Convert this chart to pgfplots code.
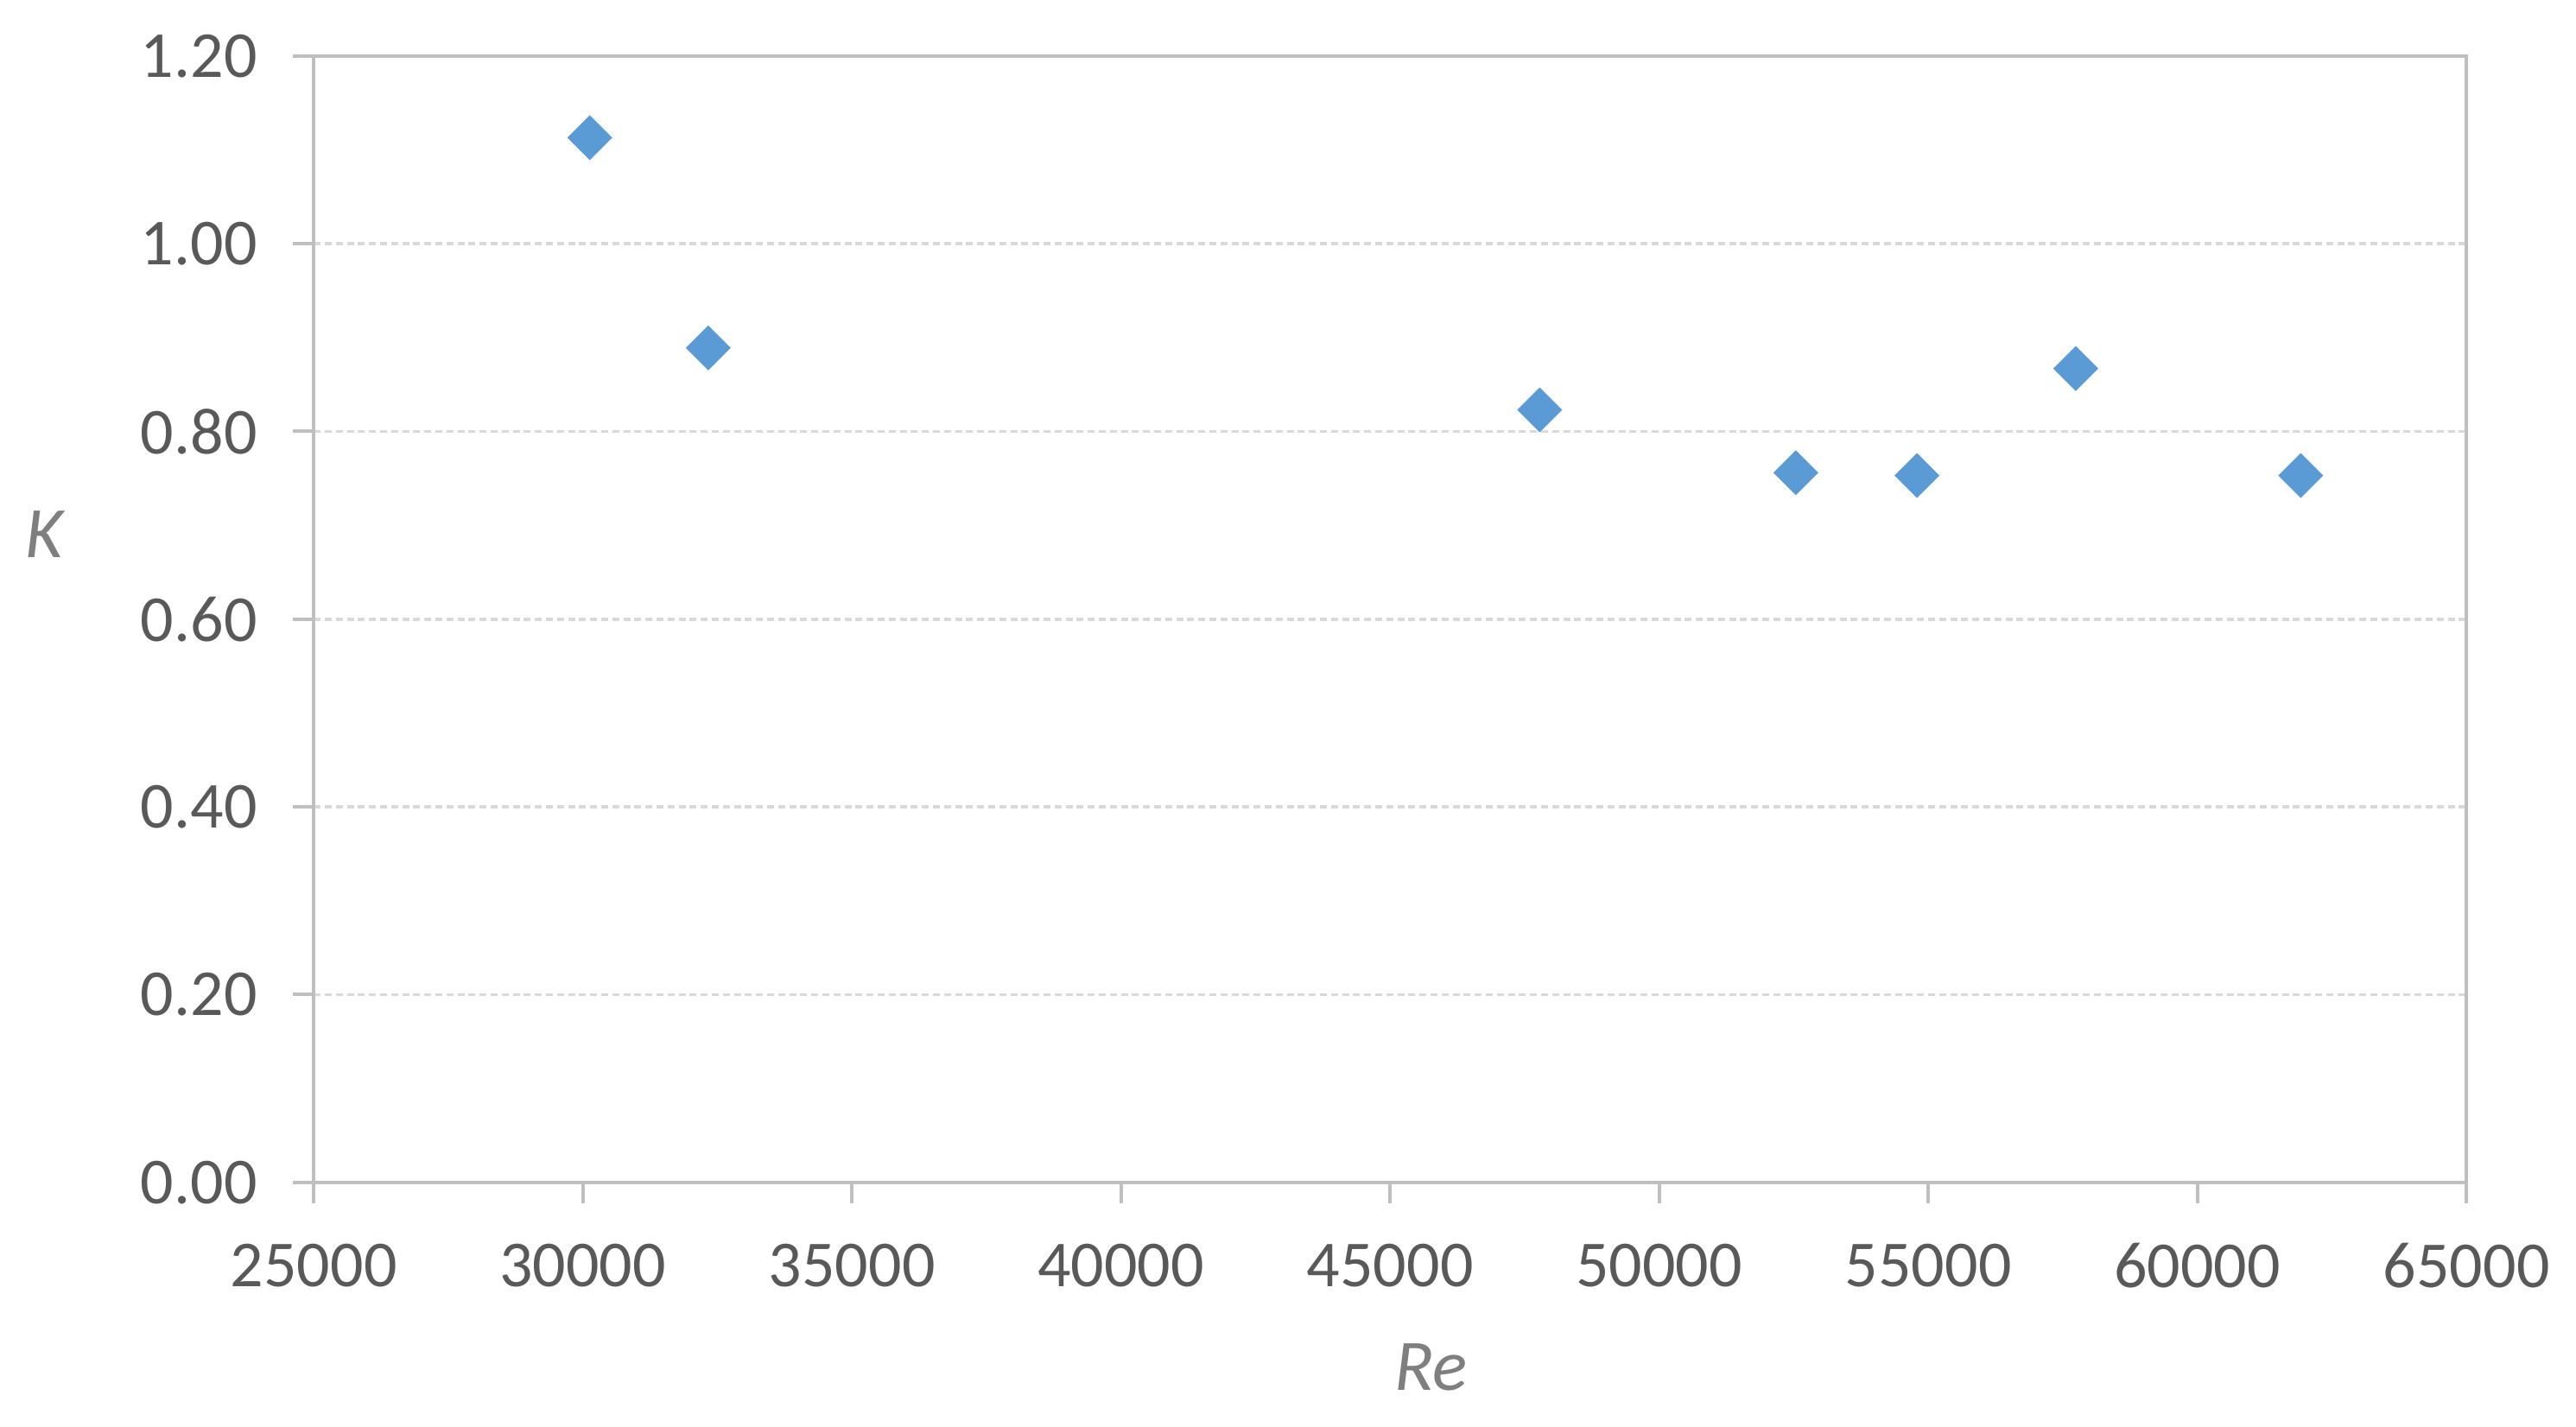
\documentclass[border=0pt]{standalone}
\usepackage{pgfplots}
\pgfplotsset{compat=1.18}
\usepackage{fontspec}
\setmainfont{Carlito}
\definecolor{pts}{HTML}{5B9BD5}
\definecolor{axgray}{HTML}{BFBFBF}
\definecolor{gridgray}{HTML}{D9D9D9}
\definecolor{ticktext}{HTML}{595959}
\definecolor{labtext}{HTML}{7F7F7F}
\begin{document}
\begin{tikzpicture}
\begin{axis}[
  scale only axis, width=311.5pt, height=163pt,
  xmin=25000, xmax=65000, ymin=0, ymax=1.2,
  xtick={25000,30000,35000,40000,45000,50000,55000,60000,65000},
  ytick={0,0.2,0.4,0.6,0.8,1.0,1.2},
  scaled x ticks=false,
  xticklabel style={/pgf/number format/fixed, /pgf/number format/1000 sep={}},
  yticklabel style={/pgf/number format/fixed, /pgf/number format/fixed zerofill,
    /pgf/number format/precision=2},
  /pgf/number format/assume math mode=true,
  axis line style={axgray, line width=0.5pt},
  tick style={axgray, line width=0.5pt},
  tick pos=left, tick align=outside, major tick length=3pt,
  ymajorgrids,
  major grid style={gridgray, line width=0.45pt, dash pattern=on 1pt off 0.6pt},
  tick label style={font=\fontsize{9.5}{10}\selectfont, text=ticktext},
  xticklabel style={anchor=center, yshift=-9pt},
  yticklabel style={anchor=east, inner sep=0pt, xshift=-5pt},
  xlabel={\itshape Re}, ylabel={\itshape K},
  label style={font=\fontsize{10.5}{12}\selectfont, text=labtext},
  xlabel style={at={(rel axis cs:0.519,0)}, anchor=center, yshift=-26.7pt},
  ylabel style={at={(rel axis cs:0,0.575)}, anchor=center, rotate=-90, xshift=-39pt},
]
\addplot[only marks, mark=square*, mark size=2.1pt,
  mark options={rotate=45, fill=pts, draw=pts}]
  coordinates {(30130,1.113) (32330,0.889) (47780,0.823) (52540,0.756)
               (54790,0.753) (57740,0.867) (61920,0.753)};
\end{axis}
\pgfresetboundingbox
\path (current axis.south west) ++(-45.4pt,-35.3pt) rectangle ++(372.75pt,206.4pt);
\end{tikzpicture}
\end{document}
